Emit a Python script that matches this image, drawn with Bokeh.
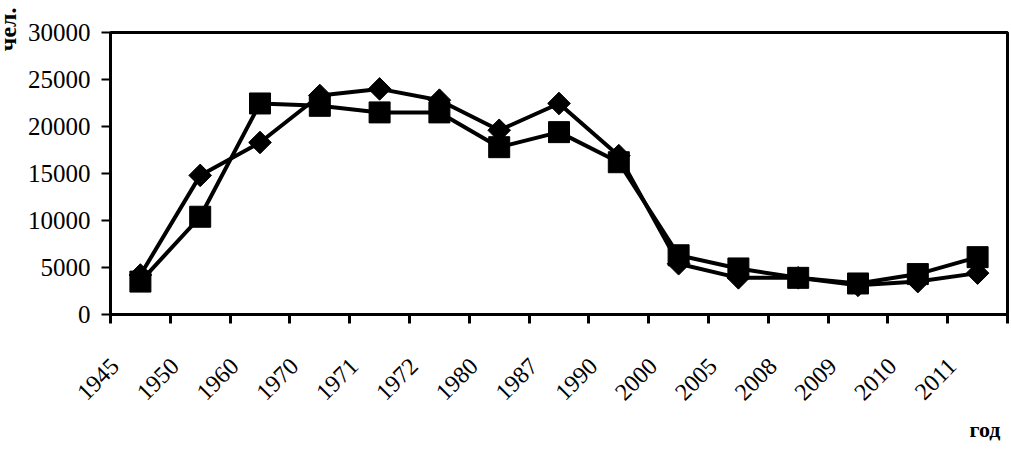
import math
from bokeh.plotting import figure
from bokeh.models import Range1d, FixedTicker, LinearAxis, Title
from bokeh.embed import file_html
from bokeh.resources import INLINE

years = ["1945", "1950", "1960", "1970", "1971", "1972", "1980", "1987",
         "1990", "2000", "2005", "2008", "2009", "2010", "2011"]
series_diamond = [4200, 14800, 18300, 23300, 24000, 22800, 19600, 22450,
                  16900, 5400, 3900, 3900, 3100, 3500, 4400]
series_square = [3500, 10400, 22450, 22200, 21500, 21500, 17800, 19400,
                 16200, 6300, 4900, 3900, 3300, 4300, 6100]
y_ticks = [0, 5000, 10000, 15000, 20000, 25000, 30000]

FONT = "Liberation Serif"
n = len(years)
xs = [i + 0.5 for i in range(n)]
label_pos = [i + 0.08 for i in range(n)]

p = figure(width=1010, height=449, output_backend="svg", toolbar_location=None,
           x_range=Range1d(0, n), y_range=Range1d(y_ticks[0], y_ticks[-1]),
           x_axis_type=None, y_axis_type=None)
p.min_border_left = 110
p.min_border_top = 32
p.min_border_bottom = 135
p.min_border_right = 3
p.background_fill_color = "white"
p.border_fill_color = "white"
p.outline_line_color = "black"
p.outline_line_width = 3

# x axis: rotated labels, tick marks at category boundaries (minor ticks)
xaxis = LinearAxis(ticker=FixedTicker(ticks=label_pos,
                                      minor_ticks=list(range(n + 1))))
xaxis.major_label_overrides = {x: y for x, y in zip(label_pos, years)}
xaxis.major_label_orientation = math.pi / 4
xaxis.major_tick_out = 0
xaxis.major_tick_in = 0
xaxis.minor_tick_out = 9
xaxis.minor_tick_in = 0
xaxis.minor_tick_line_width = 3
xaxis.minor_tick_line_color = "black"
xaxis.axis_line_width = 3
xaxis.axis_line_color = "black"
xaxis.major_label_standoff = 39
xaxis.major_label_text_font = FONT
xaxis.major_label_text_font_size = "24px"
xaxis.major_label_text_color = "black"
p.add_layout(xaxis, "below")

yaxis = LinearAxis(ticker=FixedTicker(ticks=y_ticks, minor_ticks=[]))
yaxis.major_tick_out = 9
yaxis.major_tick_in = 0
yaxis.major_tick_line_width = 2
yaxis.axis_line_width = 3
yaxis.axis_line_color = "black"
yaxis.major_label_standoff = 11
yaxis.major_label_text_font = FONT
yaxis.major_label_text_font_size = "25px"
yaxis.major_label_text_color = "black"
yaxis.axis_label = " "
yaxis.axis_label_text_font_size = "1px"
yaxis.axis_label_standoff = 15
p.add_layout(yaxis, "left")

p.ygrid.ticker = FixedTicker(ticks=y_ticks)
p.ygrid.grid_line_color = "black"
p.ygrid.grid_line_width = 3
p.xgrid.grid_line_color = None

p.line(xs, series_diamond, line_color="black", line_width=4)
p.scatter(xs, series_diamond, marker="square", angle=math.pi / 4, size=16,
          fill_color="black", line_color="black")
p.line(xs, series_square, line_color="black", line_width=4)
p.scatter(xs, series_square, marker="square", size=21,
          fill_color="black", line_color="black")

p.add_layout(Title(text="чел.", align="right", offset=-25, standoff=-30,
                   text_font=FONT, text_font_size="24px", text_font_style="bold",
                   text_color="black"), "left")
p.add_layout(Title(text="год", align="right", offset=7, standoff=9,
                   text_font=FONT, text_font_size="22px", text_font_style="bold",
                   text_color="black"), "below")

open("out.html", "w").write(file_html(p, INLINE))
